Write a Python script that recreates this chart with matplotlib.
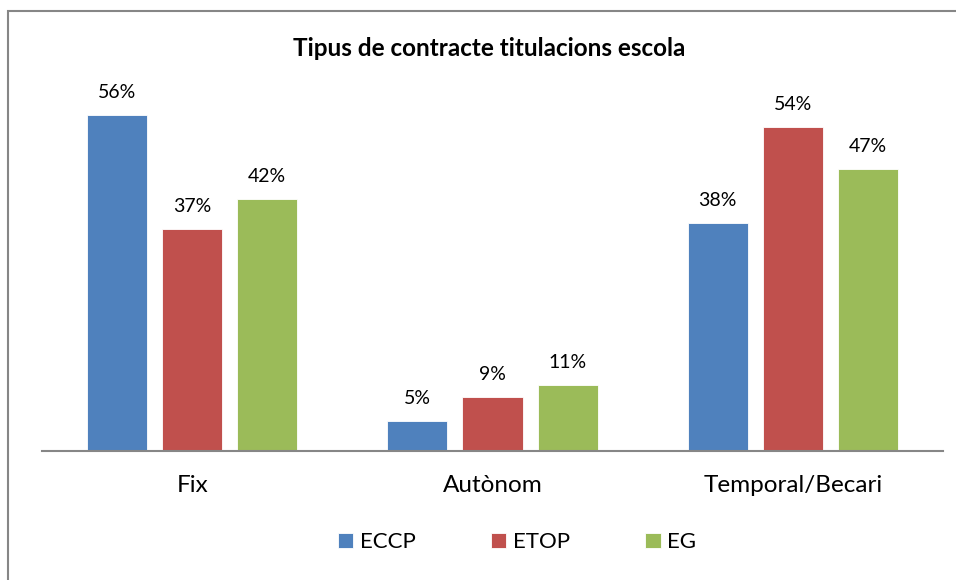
import matplotlib
matplotlib.use("Agg")
import matplotlib.pyplot as plt
from matplotlib.patches import Rectangle
import numpy as np

categories = ["Fix", "Autònom", "Temporal/Becari"]
series = ["ECCP", "ETOP", "EG"]
eccp = [0.56, 0.05, 0.38]
etop = [0.37, 0.09, 0.54]
eg = [0.42, 0.11, 0.47]
colors = ["#4F81BD", "#C0504D", "#9BBB59"]
title = "Tipus de contracte titulacions escola"

plt.rcParams['font.family'] = ['Lato', 'DejaVu Sans']

W, H = 956, 580
fig = plt.figure(figsize=(W / 100, H / 100), dpi=100)

# chart border
fig.patches.append(Rectangle((8 / W, -0.05), 1.2, 1 - 11 / H + 0.05,
                             transform=fig.transFigure, fill=False,
                             edgecolor="#868686", linewidth=1.5))

ax = fig.add_axes([42 / W, 1 - 450.5 / H, (943 - 42) / W, (450.5 - 91.3) / H])
x = np.arange(len(categories))
width = 0.2
step = 0.25
containers = []
for i, (vals, name) in enumerate(zip([eccp, etop, eg], series)):
    c = ax.bar(x + (i - 1) * step, vals, width, color=colors[i], label=name,
               edgecolor="white", linewidth=0.6)
    containers.append(c)
    ax.bar_label(c, labels=[f"{round(v * 100)}%" for v in vals], padding=10,
                 fontsize=14, color="#000000")

ax.set_xlim(-0.5, 2.5)
ax.set_ylim(0, 0.6)
ax.set_yticks([])
ax.set_xticks(x)
ax.set_xticklabels(categories, fontsize=17.5)
ax.tick_params(axis="x", length=0, pad=17.5)
for s in ["top", "left", "right"]:
    ax.spines[s].set_visible(False)
ax.spines["bottom"].set_color("#868686")
ax.spines["bottom"].set_linewidth(1.5)

fig.text(489 / W, 1 - 48 / H, title, ha="center", va="center",
         fontsize=17.5, fontweight="bold")

fig.legend(handles=containers, labels=series, loc="center",
           bbox_to_anchor=(517 / W, 1 - 542 / H), ncol=3, frameon=False,
           fontsize=16, handlelength=0.68, handleheight=0.68,
           handletextpad=0.31, columnspacing=3.4)

fig.savefig("out.png", dpi=100)
